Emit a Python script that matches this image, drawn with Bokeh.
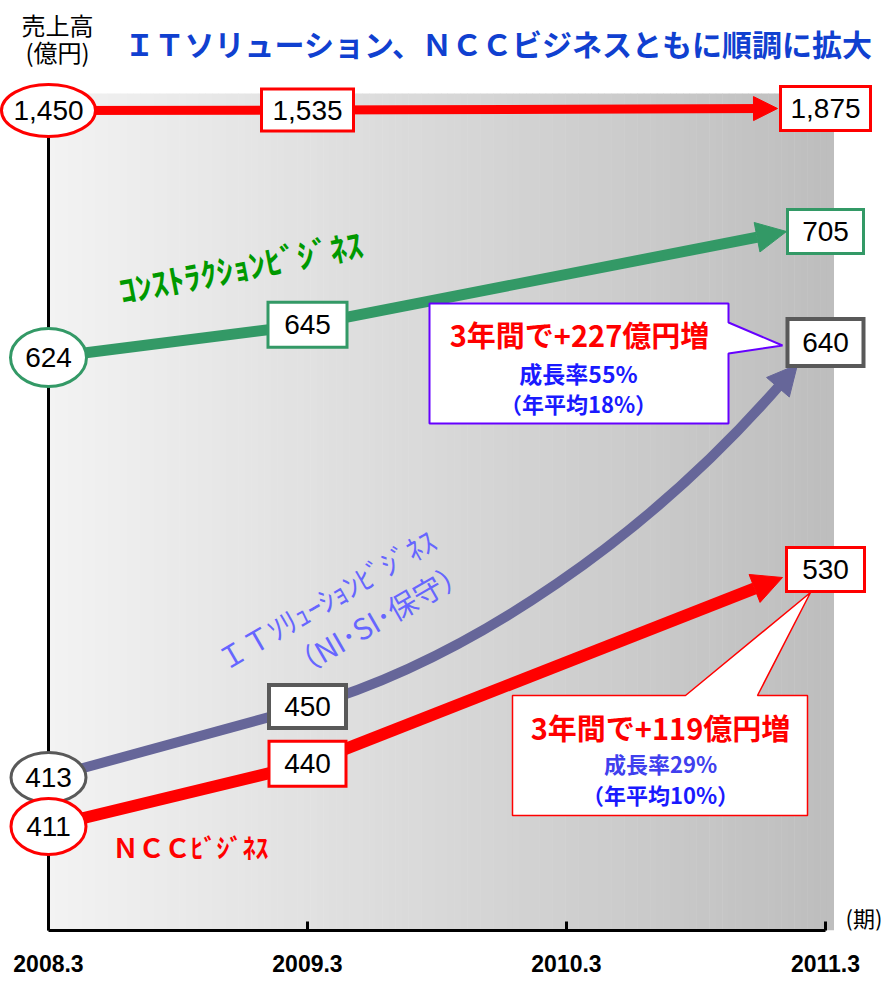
import numpy as np
from bokeh.plotting import figure
from bokeh.models import (Range1d, LinearAxis, FixedTicker, Arrow, NormalHead,
                          Label, PolyAnnotation, ColumnDataSource)
from bokeh.core.properties import value
from bokeh.embed import file_html
from bokeh.resources import INLINE

# ---------------- data ----------------
periods = ["2008.3", "2009.3", "2010.3", "2011.3"]
value_periods = [0, 1, 3]            # indices of periods that carry values
total = [1450, 1535, 1875]
construction = [624, 645, 705]
it_solution = [413, 450, 640]
ncc = [411, 440, 530]

title_text = "ＩＴソリューション、ＮＣＣビジネスともに順調に拡大"
unit_text = ["売上高", "(億円)"]
period_unit = "(期)"
con_name = "ｺﾝｽﾄﾗｸｼｮﾝﾋﾞｼﾞﾈｽ"
it_name = ["ＩＴｿﾘｭｰｼｮﾝﾋﾞｼﾞﾈｽ", "（NI･SI･保守）"]
ncc_name = "ＮＣＣﾋﾞｼﾞﾈｽ"
it_note = ["3年間で+227億円増", "成長率55%", "（年平均18%）"]
ncc_note = ["3年間で+119億円増", "成長率29%", "（年平均10%）"]

# ---------------- layout helpers ----------------
W, H = 881, 981
FL, FT = 0, 0          # page offset of the frame
FW, FH = 881, 930
FB = FT + FH           # frame bottom in page px
X0, STEP = 48, 259     # page x of first period, px per period

CJK = "'Noto Sans CJK JP', sans-serif"
NUM = "'Liberation Sans', Arial, sans-serif"


def sx(xref):
    return xref - FL


def sy(yref):
    return FB - yref


def xref_of(i):
    return X0 + STEP * i


def idx_of(xref):
    return (xref - X0) / STEP


class SeriesScale:
    """Schematic per-series linear scale: value va at page y ra, vb at rb."""
    def __init__(self, va, ra, vb, rb):
        self.va, self.ra = va, ra
        self.k = (ra - rb) / (vb - va)

    def ref(self, v):
        return self.ra - self.k * (v - self.va)

    def val(self, r):
        return self.va + (self.ra - r) / self.k

    def range(self):
        return Range1d(start=self.val(FB), end=self.val(FT))


series = [
    dict(name="tot", vals=total, scale=SeriesScale(1450, 110, 1875, 108),
         color="#ff0000", lw=9, head=24, gap=48, tip_dy=0, curve=False,
         ell=(94, 52), ell_color="#ff0000", ell_lw=3,
         boxes=[(92, 42), (90, 44)], box_color="#ff0000", box_lw=3),
    dict(name="con", vals=construction, scale=SeriesScale(624, 357, 705, 231),
         color="#339966", lw=11, head=30, gap=39, tip_dy=0, curve=False,
         ell=(76, 58), ell_color="#339966", ell_lw=3,
         boxes=[(79, 45), (76, 44)], box_color="#339966", box_lw=3),
    dict(name="it", vals=it_solution, scale=SeriesScale(413, 777, 640, 342),
         color="#666699", lw=10, head=30, gap=28, tip_dy=22, curve=True,
         ell=(75, 50), ell_color="#595959", ell_lw=3,
         boxes=[(77, 43), (76, 47)], box_color="#595959", box_lw=4),
    dict(name="ncc", vals=ncc, scale=SeriesScale(411, 826, 530, 569),
         color="#ff0000", lw=12, head=30, gap=43, tip_dy=8, curve=False,
         ell=(75, 56), ell_color="#ff0000", ell_lw=3,
         boxes=[(77, 45), (78, 44)], box_color="#ff0000", box_lw=3),
]

p = figure(width=W, height=H,
           x_range=Range1d(0, FW), y_range=Range1d(0, FH),
           x_axis_location=None, y_axis_location=None,
           output_backend="svg", toolbar_location=None,
           min_border_left=0, min_border_right=0, min_border_top=0,
           min_border_bottom=H - FH)
p.background_fill_color = "white"
p.border_fill_color = "white"
p.outline_line_color = None
p.grid.visible = False

p.extra_x_ranges = {"yr": Range1d(start=idx_of(FL), end=idx_of(FL + FW))}
p.extra_y_ranges = {s["name"]: s["scale"].range() for s in series}

# ---------------- background gradient ----------------
n = 120
edges = np.linspace(48, 833, n + 1)
shade = np.linspace(243, 190, n)
cols = ["#%02x%02x%02x" % (int(g), int(g), int(g)) for g in shade]
p.quad(left=[sx(e) for e in edges[:-1]], right=[sx(e) + 0.5 for e in edges[1:]],
       bottom=0, top=sy(93), fill_color=cols, line_color=None, level="image")

# ---------------- axes ----------------
xa = LinearAxis(x_range_name="yr", ticker=FixedTicker(ticks=[0, 1, 2, 3]),
                major_label_overrides={i: periods[i] for i in range(4)},
                bounds=(0, 3))
xa.axis_line_width = 3
xa.axis_line_color = "black"
xa.major_tick_in = 9
xa.major_tick_out = 0
xa.major_tick_line_width = 3
xa.minor_tick_in = 0
xa.minor_tick_out = 0
xa.major_label_text_font = NUM
xa.major_label_text_font_size = "23px"
xa.major_label_text_font_style = "bold"
xa.major_label_text_color = "black"
xa.major_label_standoff = 24
p.add_layout(xa, "below")

ya = LinearAxis(fixed_location=sx(X0), ticker=FixedTicker(ticks=[]),
                bounds=(0, sy(135)))
ya.axis_line_width = 3
ya.axis_line_color = "black"
ya.major_tick_in = 0
ya.major_tick_out = 0
ya.minor_tick_in = 0
ya.minor_tick_out = 0
ya.major_label_text_font_size = "0px"
p.add_layout(ya, "left")

# ---------------- lines and arrows ----------------
for s in series:
    name, v, sc, c, lw = s["name"], s["vals"], s["scale"], s["color"], s["lw"]
    src = ColumnDataSource(dict(x=value_periods[:2], y=v[:2]))
    p.line("x", "y", source=src, x_range_name="yr", y_range_name=name,
           line_width=lw, line_color=c)
    tip_x = value_periods[2] - s["gap"] / STEP
    tip_y = sc.val(sc.ref(v[2]) + s["tip_dy"])
    head = NormalHead(size=s["head"], fill_color=c, line_color=c, line_width=1)
    if not s["curve"]:
        p.add_layout(Arrow(end=head, x_start=value_periods[1], y_start=v[1],
                           x_end=tip_x, y_end=tip_y, x_range_name="yr",
                           y_range_name=name, line_color=c, line_width=lw))
    else:
        # smooth accelerating connector from the 2nd value to the arrow tip
        p1 = np.array([xref_of(value_periods[1]), sc.ref(v[1])])
        t = np.array([xref_of(tip_x), sc.ref(tip_y)])
        d = t - p1
        c1 = p1 + d * np.array([0.333, 0.14])
        c2 = p1 + d * np.array([0.70, 0.50])
        u = (t - c2) / np.linalg.norm(t - c2)
        q = t - 18 * u
        p.bezier(x0=[idx_of(p1[0])], y0=[sc.val(p1[1])],
                 x1=[idx_of(q[0])], y1=[sc.val(q[1])],
                 cx0=[idx_of(c1[0])], cy0=[sc.val(c1[1])],
                 cx1=[idx_of(c2[0])], cy1=[sc.val(c2[1])],
                 x_range_name="yr", y_range_name=name,
                 line_color=c, line_width=lw)
        p.add_layout(Arrow(end=head, x_start=idx_of(q[0]), y_start=sc.val(q[1]),
                           x_end=tip_x, y_end=tip_y, x_range_name="yr",
                           y_range_name=name, line_color=c, line_width=lw))

# ---------------- value markers ----------------
for s in series:
    name, v = s["name"], s["vals"]
    ew, eh = s["ell"]
    p.ellipse(x=[value_periods[0]], y=[v[0]], width=ew, height=eh,
              width_units="screen", height_units="screen",
              fill_color="white", line_color=s["ell_color"], line_width=s["ell_lw"],
              x_range_name="yr", y_range_name=name, level="overlay")
    bsrc = ColumnDataSource(dict(x=value_periods[1:], y=v[1:],
                                 w=[b[0] for b in s["boxes"]],
                                 h=[b[1] for b in s["boxes"]]))
    p.rect("x", "y", width="w", height="h", source=bsrc,
           width_units="screen", height_units="screen",
           fill_color="white", line_color=s["box_color"], line_width=s["box_lw"],
           line_join="miter", x_range_name="yr", y_range_name=name, level="overlay")
    p.text(x=value_periods, y=v, text=[f"{a:,}" for a in v],
           text_font=value(NUM), text_font_size="28px", text_color="black",
           text_align="center", text_baseline="middle",
           x_range_name="yr", y_range_name=name, level="overlay")

# ---------------- callouts ----------------
up = [(429, 303), (728, 303), (728, 322), (782, 345), (728, 353), (728, 423), (429, 423)]
p.add_layout(PolyAnnotation(xs=[sx(a) for a, b in up], ys=[sy(b) for a, b in up],
                            fill_color="white", fill_alpha=1,
                            line_color="#6600ff", line_alpha=1, line_width=2))
lo = [(512, 695), (685, 695), (810, 592), (757, 695), (807, 695), (807, 815), (512, 815)]
p.add_layout(PolyAnnotation(xs=[sx(a) for a, b in lo], ys=[sy(b) for a, b in lo],
                            fill_color="white", fill_alpha=1,
                            line_color="#ff0000", line_alpha=1, line_width=1.5))


def label(text, x, y, size, color, style="normal", align="center", angle=0.0,
          font=CJK):
    p.add_layout(Label(x=sx(x), y=sy(y), text=text, text_font=font,
                       text_font_size=f"{size}px", text_font_style=style,
                       text_color=color, text_align=align,
                       text_baseline="middle", angle=angle))


label(it_note[0], 579, 333, 29, "#ff0000", "bold")
label(it_note[1], 578, 372, 23, "#1a1aff", "bold")
label(it_note[2], 578, 402, 22, "#1a1aff", "bold")
label(ncc_note[0], 660, 726, 29, "#ff0000", "bold")
label(ncc_note[1], 660, 762, 22, "#4040ee", "bold")
label(ncc_note[2], 660, 793, 22, "#1a1aff", "bold")

# ---------------- titles and series names ----------------
label(unit_text[0], 57, 24, 24, "black")
label(unit_text[1], 57, 51, 24, "black")
label(title_text, 124, 42, 30, "#1040d0", "bold", align="left")
label(period_unit, 845, 916, 22, "black", align="left")

label(con_name, 240, 266, 33, "#009900", "bold", angle=np.radians(11))
label(it_name[0], 325, 598, 29, "#6666ff", angle=np.radians(30))
label(it_name[1], 377, 617, 29, "#6666ff", angle=np.radians(30))
label(ncc_name, 112, 846, 26, "#ff0000", "bold", align="left")

open("out.html", "w").write(file_html(p, INLINE))
